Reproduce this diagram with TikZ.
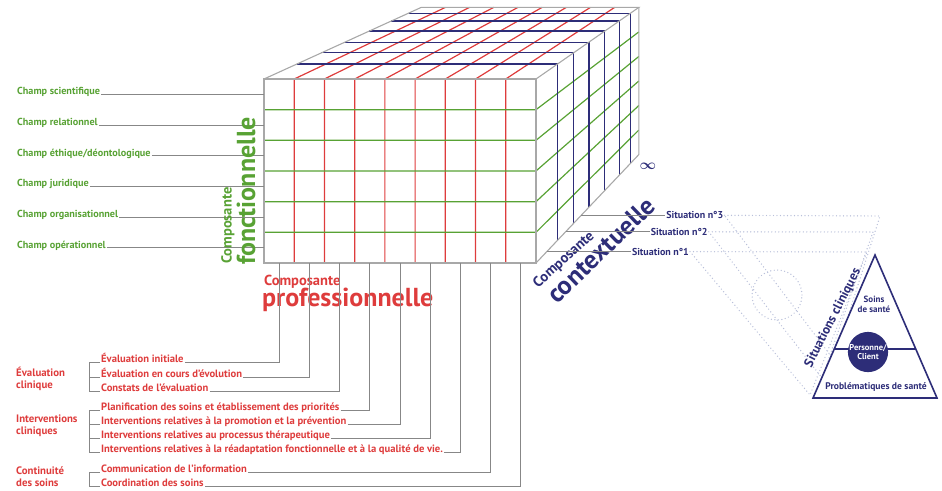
\documentclass[tikz,border=0pt]{standalone}
\usepackage{fontspec}
\setmainfont{PT Sans}
\usetikzlibrary{calc}
\definecolor{fgreen}{RGB}{88,162,52}
\definecolor{pred}{RGB}{222,60,60}
\definecolor{cnavy}{RGB}{45,45,120}
\definecolor{edgegray}{RGB}{168,168,168}
\definecolor{leadgray}{RGB}{135,135,135}
\definecolor{dotblue}{RGB}{185,192,218}
\tikzstyle{cubeedge}=[draw=edgegray,line width=1.1pt]
\tikzstyle{gridline}=[line width=1.2pt]
\tikzstyle{leader}=[draw=leadgray,line width=1pt]
\tikzstyle{ghost}=[draw=dotblue,line width=1.4pt,line cap=round,dash pattern=on 0pt off 3.5pt]
\tikzstyle{champ}=[anchor=west,inner sep=1pt,text=fgreen,font=\bfseries\fontsize{10.2}{11}\selectfont]
\tikzstyle{soin}=[anchor=base west,inner sep=1pt,text=pred,font=\bfseries\fontsize{10.6}{11}\selectfont]
\tikzstyle{groupe}=[anchor=west,align=left,inner sep=0pt,text=pred,font=\bfseries\fontsize{10.8}{12}\selectfont]
\tikzstyle{situation}=[anchor=west,inner sep=1pt,text=cnavy,font=\bfseries\fontsize{10}{11}\selectfont]
\tikzstyle{pyramid}=[text=cnavy,align=center,inner sep=0pt,font=\bfseries\fontsize{9}{10}\selectfont]
\tikzstyle{compsmall}=[inner sep=0pt,font=\bfseries\fontsize{14.5}{14.5}\selectfont]
\tikzstyle{compbig}=[inner sep=0pt,font=\bfseries\fontsize{26}{26}\selectfont]

\begin{document}
\begin{tikzpicture}[x=1pt,y=-1pt]
  \useasboundingbox (0,0) rectangle (942,490);
    % Corners of the cube, the back face comes from the vanishing point
    \coordinate (vp) at (1050,-279);
    \coordinate (ftl) at (264,79);
    \coordinate (ftr) at (536,79);
    \coordinate (fbl) at (264,263);
    \coordinate (fbr) at (536,263);
    \coordinate (btl) at ($(vp)!0.8!(ftl)$);
    \coordinate (btr) at ($(vp)!0.8!(ftr)$);
    \coordinate (bbr) at ($(vp)!0.8!(fbr)$);
    % Red columns, front and top
    \foreach \i [evaluate=\i as \x using 264+\i*272/9] in {1,...,8}
        \draw[gridline,draw=pred] (\x,263) -- (\x,79) -- ($(vp)!0.8!(\x,79)$);
    % Green rows, front and right side
    \foreach \j [evaluate=\j as \y using 79+\j*184/6] in {1,...,5}
        \draw[gridline,draw=fgreen] (264,\y) -- (536,\y) -- ($(vp)!0.8!(536,\y)$);
    % Blue layers in depth
    \foreach \k in {0.958,0.927,0.897,0.866,0.838,0.816}
        \draw[gridline,draw=cnavy] ($(vp)!\k!(ftl)$) -- ($(vp)!\k!(ftr)$) -- ($(vp)!\k!(fbr)$);
    % Outline of the cube
    \draw[cubeedge] (ftl) rectangle (fbr);
    \draw[cubeedge] (ftl) -- (btl) -- (btr) -- (ftr);
    \draw[cubeedge] (btr) -- (bbr) -- (fbr);

    % Functional component on the left
    \foreach \j/\name/\txt in {1/chsci/Champ scientifique,2/chrel/Champ relationnel,
                               3/cheth/{Champ éthique/déontologique},4/chjur/Champ juridique,
                               5/chorg/Champ organisationnel,6/chope/Champ opérationnel} {
        \coordinate (rw\j) at (264,79+30.667*\j-15.33);
        \node[champ] (\name) at ($(16,0)+(0,79+30.667*\j-17.5)$) {\txt};
        \draw[leader] (\name.east |- rw\j) -- (rw\j);
    }
    \node[compsmall,rotate=90,anchor=west,text=fgreen] (fcomp) at (228,264) {Composante};
    \node[compbig,rotate=90,anchor=west,text=fgreen] (fname) at (246,265) {fonctionnelle};

    % Professional component below
    \node[compsmall,anchor=west,text=pred] (pcomp) at (264,282) {Composante};
    \node[compbig,anchor=west,text=pred] (pname) at (262,300) {professionnelle};
    \foreach \i/\ly/\txt in {1/362/Évaluation initiale,2/377/Évaluation en cours d’évolution,
                             3/391/Constats de l’évaluation,
                             4/410/Planification des soins et établissement des priorités,
                             5/424/Interventions relatives à la promotion et la prévention,
                             6/438/Interventions relatives au processus thérapeutique,
                             7/452/Interventions relatives à la réadaptation fonctionnelle et à la qualité de vie.,
                             8/472/Communication de l’information,9/486/Coordination des soins} {
        \coordinate (c\i) at (264+\i*30.222-15.11,263);
        \node[soin] (p\i) at (100,\ly) {\txt};
        \draw[leader] (p\i.base east) -| (c\i);
    }
    % Brackets of the groups
    \draw[leader] (p1.base west) -- ++(-11,0) |- (p3.base west);
    \draw[leader] (p2.base west) -- ++(-11,0);
    \draw[leader] (p4.base west) -- ++(-11,0) |- (p7.base west);
    \draw[leader] (p5.base west) -- ++(-11,0);
    \draw[leader] (p6.base west) -- ++(-11,0);
    \draw[leader] (p8.base west) -- ++(-11,0) |- (p9.base west);
    \node[groupe] (eval) at (16,379) {Évaluation\\clinique};
    \node[groupe] (interv) at (16,426) {Interventions\\cliniques};
    \node[groupe] (contin) at (16,477) {Continuité\\des soins};

    % Contextual component on the right
    \node[compsmall,rotate=42,text=cnavy] (ccomp) at (564,260) {Composante};
    \node[compbig,rotate=44,text=cnavy] (cname) at (601,250) {contextuelle};
    \node[text=cnavy,inner sep=0pt,font=\fontsize{15}{15}\selectfont\boldmath] (infty) at (648,166) {$\infty$};
    \foreach \i/\k in {1/0.979,2/0.9425,3/0.912} {
        \coordinate (d\i) at ($(vp)!\k!(fbr)$);
        \node[situation] (sit\i) at ($(d\i)+(84,0)$) {Situation n°\i};
        \draw[leader] (d\i) -- (sit\i.west);
    }

    % Ghost triangles of the clinical situations
    \draw[ghost] (sit3.east) -- (880,216) -- (834,360) -- cycle;
    \draw[ghost] (sit2.east) -- (873,232) -- (822,378) -- cycle;
    \draw[ghost] (sit1.east) -- (867,252) -- (810,395) -- cycle;
    \node[circle,ghost,minimum size=50pt] (ghostc) at (777,295) {};

    % Clinical situation pyramid
    \coordinate (apex) at (875,255);
    \coordinate (tbl) at (813,398);
    \coordinate (tbr) at (937,398);
    \fill[white] (apex) -- (tbl) -- (tbr) -- cycle;
    \draw[cnavy,line width=1.6pt,line join=miter] (apex) -- (tbl) -- (tbr) -- cycle;
    \draw[cnavy,line width=1.3pt] ($(tbl)!0.343!(apex)$) -- ($(tbr)!0.343!(apex)$);
    \node[circle,fill=cnavy,minimum size=37pt,inner sep=0pt,align=center,text=white,
          font=\bfseries\fontsize{8.5}{9.5}\selectfont] (client) at (868,352) {Personne/\\Client};
    \node[pyramid] (soins) at (874,304) {Soins\\de santé};
    \node[pyramid,font=\bfseries\fontsize{9.6}{10}\selectfont] (probl) at (876,387) {Problématiques de santé};
    \node[rotate=63,text=cnavy,inner sep=0pt,font=\bfseries\fontsize{13}{13}\selectfont] (sitclin) at (833,318) {Situations cliniques};
\end{tikzpicture}
\end{document}
